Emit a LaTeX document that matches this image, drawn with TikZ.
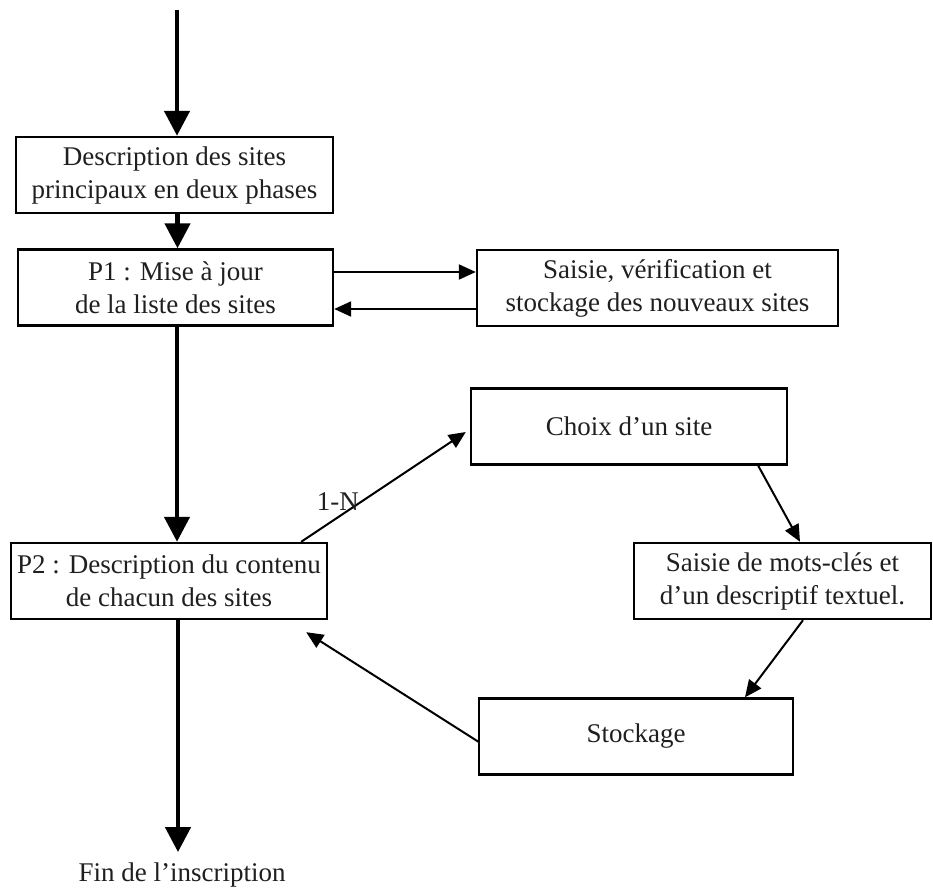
\documentclass[tikz,border=0pt]{standalone}
\usepackage{fontspec}
\setmainfont{Liberation Serif}
\usetikzlibrary{arrows.meta,calc}
\begin{document}
\begin{tikzpicture}[x=1pt,y=-1pt,
  txt/.style={font=\fontsize{27}{33}\selectfont, text=black!88},
  box/.style={txt, draw, line width=2.4pt, minimum height=76pt,
    inner sep=0pt, align=center},
  heavy/.style={line width=4.6pt, -{Triangle[length=25pt,width=25pt]}},
  flow/.style={line width=2pt, -{Triangle[length=17pt,width=15pt]}}]
\useasboundingbox (0,0) rectangle (933,887);

% main column
\node[box, minimum width=317pt] (desc) at (174.5,175)
  {Description des sites\\principaux en deux phases};
\node[box, minimum width=315pt] (p1) at (175.5,287.5)
  {P1 : Mise à jour\\de la liste des sites};
\node[box, minimum width=316pt] (p2) at (169,581)
  {P2 : Description du contenu\\de chacun des sites};
\node[txt, anchor=base, inner sep=0pt, inner ysep=10pt] (fin) at (182,881)
  {Fin de l'inscription};

% side boxes
\node[box, minimum width=361pt] (saisie) at (657.5,288)
  {Saisie, vérification et\\stockage des nouveaux sites};
\node[box, minimum width=316pt] (choix) at (629,426.5) {Choix d'un site};
\node[box, minimum width=297pt] (mots) at (782.5,581)
  {Saisie de mots-clés et\\d'un descriptif textuel.};
\node[box, minimum width=314pt] (stock) at (636,736.5) {Stockage};

% attachment points of the connectors
\coordinate (start) at (177,10);
\coordinate (descout) at ($(desc.south)+(3,0)$);
\coordinate (p1out) at ($(p1.south)+(1.5,0)$);
\coordinate (p2out) at ($(p2.south)+(9,0)$);
\coordinate (p1r1) at ($(p1.east)+(0,-15.5)$);
\coordinate (p1r2) at ($(p1.east)+(0,21.5)$);
\coordinate (sl1) at ($(saisie.west)+(0,-16)$);
\coordinate (sl2) at ($(saisie.west)+(0,21)$);
\coordinate (p2up) at ($(p2.north east)+(-27,0)$);
\coordinate (p2in) at ($(p2.south east)+(-22,12)$);
\coordinate (choixin) at ($(choix.west)+(-4,5.5)$);
\coordinate (choixout) at ($(choix.south east)+(-30,0)$);
\coordinate (motsin) at ($(mots.north)+(17.5,0)$);
\coordinate (motsout) at ($(mots.south)+(20.5,0)$);
\coordinate (stockin) at ($(stock.north)+(109,0)$);
\coordinate (stockout) at ($(stock.west)+(1,5.5)$);

% thick main flow
\draw[heavy] (start) -- (start |- desc.north);
\draw[heavy] (descout) -- (descout |- p1.north);
\draw[heavy] (p1out) -- (p1out |- p2.north);
\draw[heavy] (p2out) -- (p2out |- fin.north);

% update loop of P1
\draw[flow] (p1r1) -- (sl1);
\draw[flow] (sl2) -- (p1r2);

% description loop of P2
\draw[flow] (p2up) --
  node[pos=0.35, anchor=south east, inner sep=0pt, xshift=1pt, yshift=-8pt, txt] (card) {1-N}
  (choixin);
\draw[flow] (choixout) -- (motsin);
\draw[flow] (motsout) -- (stockin);
\draw[flow] (stockout) -- (p2in);
\end{tikzpicture}
\end{document}
